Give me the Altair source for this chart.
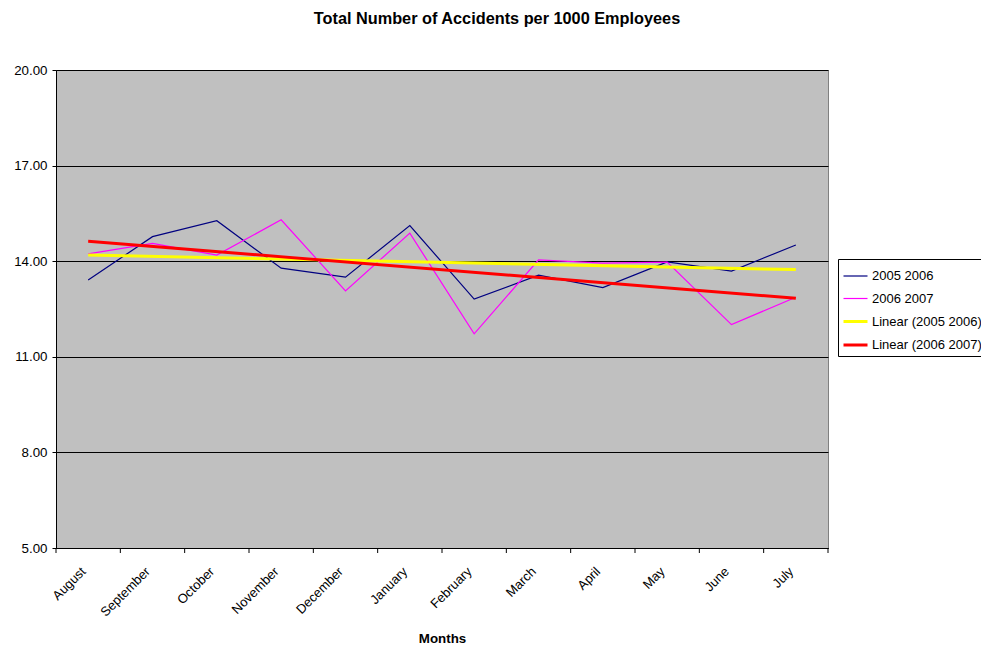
import altair as alt
import pandas as pd

months = ["August", "September", "October", "November", "December", "January",
          "February", "March", "April", "May", "June", "July"]
series_names = ["2005 2006", "2006 2007"]
values_0506 = [13.41, 14.77, 15.27, 13.78, 13.50, 15.12, 12.81, 13.56, 13.17, 13.98, 13.69, 14.51]
values_0607 = [14.23, 14.56, 14.19, 15.30, 13.07, 14.88, 11.72, 14.04, 13.94, 13.97, 12.01, 12.87]
y_ticks = [5, 8, 11, 14, 17, 20]
legend_names = ["2005 2006", "2006 2007", "Linear (2005 2006)", "Linear (2006 2007)"]
legend_colors = ["#000080", "#FF00FF", "#FFFF00", "#FF0000"]
legend_widths = [1.2, 1.2, 3, 3]

rows = []
for name, vals in zip(series_names, [values_0506, values_0607]):
    for i, (m, v) in enumerate(zip(months, vals)):
        rows.append({"idx": i, "month": m, "series": name, "value": v})
df = pd.DataFrame(rows)

boundaries = pd.DataFrame({"b": [i - 0.5 for i in range(len(months) + 1)]})

FONT = "Liberation Sans"
W, H = 772, 478

month_js = "[" + ",".join("'" + m + "'" for m in months) + "]"

leg = alt.Legend(title=None, orient="none", legendX=782, legendY=189,
                 symbolType="stroke", symbolSize=576,
                 labelFont=FONT, labelFontSize=13, labelColor="black",
                 rowPadding=2.5, labelOffset=3, padding=4,
                 strokeColor="black", fillColor="white", labelLimit=200)

color = alt.Color("series:O", scale=alt.Scale(type="ordinal", domain=legend_names, range=legend_colors), legend=leg)
swidth = alt.StrokeWidth("series:O", scale=alt.Scale(type="ordinal", domain=legend_names, range=legend_widths), legend=leg)

xenc = alt.X("idx:Q", scale=alt.Scale(domain=[-0.5, len(months) - 0.5], nice=False, zero=False),
             axis=alt.Axis(values=list(range(len(months))), labelExpr=month_js + "[datum.value]",
                           ticks=False, grid=False, labelAngle=-45, labelAlign="right",
                           labelBaseline="middle", labelPadding=21, labelOffset=-5, labelFont=FONT,
                           labelFontSize=13, labelColor="black", domainColor="black",
                           title="Months", titleFont=FONT, titleFontSize=13.33,
                           titleFontWeight="bold", titleColor="black", titlePadding=13))
yenc = alt.Y("value:Q", scale=alt.Scale(domain=[5, 20], nice=False, zero=False),
             axis=alt.Axis(values=y_ticks, format=".2f", grid=True, gridColor="black",
                           gridWidth=1, tickSize=4, tickColor="black", domainColor="black",
                           labelFont=FONT, labelFontSize=13.33, labelColor="black",
                           labelPadding=5, title=None))

lines = alt.Chart(df).mark_line().encode(x=xenc, y=yenc, color=color, strokeWidth=swidth)

trend = alt.Chart(df).transform_regression(
    "idx", "value", groupby=["series"], extent=[0, len(months) - 1]
).transform_calculate(
    series="'Linear (' + datum.series + ')'"
).mark_line().encode(x="idx:Q", y="value:Q", color=color, strokeWidth=swidth)

ticks = alt.Chart(boundaries).mark_rule(color="black").encode(
    x="b:Q", y=alt.value(H), y2=alt.value(H + 5))

chart = alt.layer(lines, trend, ticks).properties(
    width=W, height=H,
    title=alt.TitleParams("Total Number of Accidents per 1000 Employees", font=FONT,
                          fontSize=16.3, fontWeight="bold", color="black", offset=36, dx=55),
    autosize=alt.AutoSizeParams(type="none"),
    padding={"left": 48, "top": 62, "right": 153, "bottom": 98},
).configure(background="white").configure_view(fill="#C0C0C0", stroke="#808080", strokeWidth=1)

chart.save("out.html", embed_options={"renderer": "svg", "actions": False})
